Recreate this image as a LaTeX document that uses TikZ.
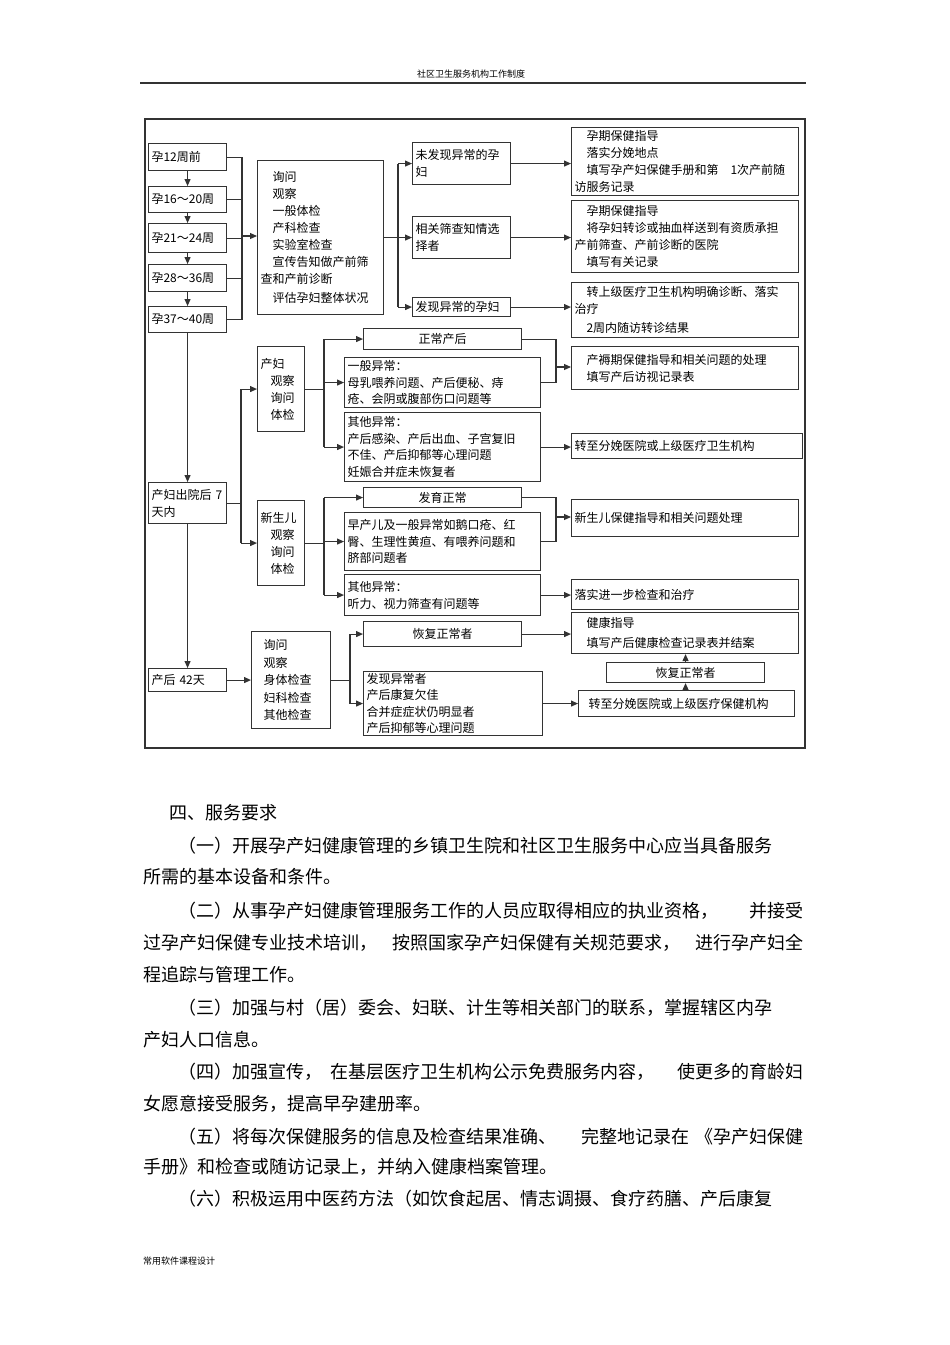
\documentclass[tikz,border=0pt]{standalone}
\usepackage{fontspec}
\setmainfont{Noto Sans CJK SC}
\usetikzlibrary{arrows.meta}

\begin{document}
\begin{tikzpicture}[x=1pt,y=-1pt]
   \tikzset{box/.style 2 args={draw=black!80, line width=1.1pt, anchor=north west, text width=#1, minimum height=#2, inner xsep=3pt, inner ysep=1pt, align=left, font=\fontsize{12}{17}\selectfont},
            line/.style={draw=black!80, line width=1.1pt},
            arr/.style={line, -{Triangle[length=7pt,width=6pt]}},
            back/.style={line, {Triangle[length=7pt,width=6pt]}-},
            txt/.style={anchor=west, inner sep=0pt, font=\fontsize{18}{20}\selectfont}};

\useasboundingbox (0,0) rectangle (950,1345);
\fill[white] (0,0) rectangle (950,1345);

\node[font=\fontsize{9}{10}\selectfont] (hd) at (471,74) {社区卫生服务机构工作制度};
\draw[line width=1.5pt, black!80] (140,83) -- (806,83);
\draw[line, line width=1.2pt] (145,119) rectangle (805,748);

\node[box={72}{27}] (1) at (148,143) {孕12周前};
\node[box={72}{26}] (2) at (148,186) {孕16～20周} edge[back] (1);
\node[box={72}{29}] (3) at (148,223) {孕21～24周} edge[back] (2);
\node[box={72}{27}] (4) at (148,264) {孕28～36周} edge[back] (3);
\node[box={72}{26}] (5) at (148,306) {孕37～40周} edge[back] (4);

\node[box={120}{154}] (6) at (257,160) {\hspace*{12pt}询问\\\hspace*{12pt}观察\\\hspace*{12pt}一般体检\\\hspace*{12pt}产科检查\\\hspace*{12pt}实验室检查\\\hspace*{12pt}宣传告知做产前筛\\查和产前诊断\\[2pt]\hspace*{12pt}评估孕妇整体状况};

\coordinate (j1) at (242,236);
\foreach \n in {1,...,5} \draw[line] (\n.east) -- (\n.east -| j1);
\draw[line] (1.east -| j1) -- (5.east -| j1);
\draw[arr] (j1) -- (j1 -| 6.west);

\node[box={92}{42}] (7) at (412,142) {未发现异常的孕\\妇};
\node[box={92}{42}] (8) at (412,216) {相关筛查知情选\\择者};
\node[box={92}{19}] (9) at (412,297) {发现异常的孕妇};

\coordinate (j2) at (398,236);
\draw[line] (6.east) -- (6.east -| j2);
\draw[line] (7.west -| j2) -- (9.west -| j2);
\foreach \n in {7,8,9} \draw[arr] (\n.west -| j2) -- (\n.west);

\node[box={221}{68}] (10) at (571,127) {\hspace*{12pt}孕期保健指导\\\hspace*{12pt}落实分娩地点\\\hspace*{12pt}填写孕产妇保健手册和第\hspace{12pt}1次产前随\\访服务记录};
\node[box={221}{72}] (11) at (571,200) {\hspace*{12pt}孕期保健指导\\\hspace*{12pt}将孕妇转诊或抽血样送到有资质承担\\产前筛查、产前诊断的医院\\\hspace*{12pt}填写有关记录};
\node[box={221}{55}] (12) at (571,282) {\hspace*{12pt}转上级医疗卫生机构明确诊断、落实\\治疗\\[2pt]\hspace*{12pt}2周内随访转诊结果};
\draw[arr] (7.east) -- (7.east -| 10.west);
\draw[arr] (8.east) -- (8.east -| 11.west);
\draw[arr] (9.east) -- (9.east -| 12.west);

\node[box={72}{41}] (13) at (148,482) {产妇出院后 7\\天内};
\draw[arr] (5) -- (13);

\node[box={41}{85}] (14) at (257,346) {产妇\\\hspace*{10pt}观察\\\hspace*{10pt}询问\\\hspace*{10pt}体检};
\node[box={41}{85}] (15) at (257,500) {新生儿\\\hspace*{10pt}观察\\\hspace*{10pt}询问\\\hspace*{10pt}体检};

\coordinate (j3) at (241,503);
\draw[line] (13.east) -- (13.east -| j3);
\draw[line] (14.west -| j3) -- (15.west -| j3);
\foreach \n in {14,15} \draw[arr] (\n.west -| j3) -- (\n.west);

\node[box={152}{21}, align=center] (16) at (363,328) {正常产后};
\node[box={190}{50}, font=\fontsize{12}{16.5}\selectfont] (17) at (344,357) {一般异常：\\母乳喂养问题、产后便秘、痔\\疮、会阴或腹部伤口问题等};
\node[box={190}{69}, font=\fontsize{12}{16.5}\selectfont] (18) at (344,412) {其他异常：\\产后感染、产后出血、子宫复旧\\不佳、产后抑郁等心理问题\\妊娠合并症未恢复者};

\coordinate (j4) at (324,389);
\draw[line] (14.east) -- (14.east -| j4);
\draw[line] (16.west -| j4) -- (18.west -| j4);
\foreach \n in {16,17,18} \draw[arr] (\n.west -| j4) -- (\n.west);

\node[box={221}{43}] (19) at (571,346) {\hspace*{12pt}产褥期保健指导和相关问题的处理\\\hspace*{12pt}填写产后访视记录表};
\node[box={225}{25}] (20) at (571,433) {转至分娩医院或上级医疗卫生机构};

\coordinate (m1) at (556,367);
\draw[line] (16.east) -| (m1 |- 17.east) -- (17.east);
\draw[arr] (m1) -- (m1 -| 19.west);
\draw[arr] (18.east) -- (18.east -| 20.west);

\node[box={152}{20}, align=center] (21) at (363,487) {发育正常};
\node[box={190}{58}, font=\fontsize{12}{16.5}\selectfont] (22) at (344,512) {早产儿及一般异常如鹅口疮、红\\臀、生理性黄疸、有喂养问题和\\脐部问题者};
\node[box={190}{41}] (23) at (344,574) {其他异常：\\听力、视力筛查有问题等};

\coordinate (j5) at (324,542);
\draw[line] (15.east) -- (15.east -| j5);
\draw[line] (21.west -| j5) -- (23.west -| j5);
\foreach \n in {21,22,23} \draw[arr] (\n.west -| j5) -- (\n.west);

\node[box={221}{37}] (24) at (571,499) {新生儿保健指导和相关问题处理\\[8pt]};
\node[box={221}{30}] (25) at (571,579) {落实进一步检查和治疗};

\coordinate (m2) at (556,517);
\draw[line] (21.east) -| (m2 |- 22.east) -- (22.east);
\draw[arr] (m2) -- (m2 -| 24.west);
\draw[arr] (23.east) -- (23.east -| 25.west);

\node[box={72}{23}] (26) at (148,668) {产后 42天};
\draw[arr] (13) -- (26);
\node[box={73}{97}, font=\fontsize{12}{17.5}\selectfont] (27) at (251,631) {\hspace*{9pt}询问\\\hspace*{9pt}观察\\\hspace*{9pt}身体检查\\\hspace*{9pt}妇科检查\\\hspace*{9pt}其他检查};
\draw[arr] (26) -- (27);

\node[box={152}{25}, align=center] (28) at (363,621) {恢复正常者};
\node[box={173}{64}, font=\fontsize{12}{16.5}\selectfont] (29) at (363,671) {发现异常者\\产后康复欠佳\\合并症症状仍明显者\\产后抑郁等心理问题};

\coordinate (j6) at (350,680);
\draw[line] (27.east) -- (27.east -| j6);
\draw[line] (28.west -| j6) -- (29.west -| j6);
\foreach \n in {28,29} \draw[arr] (\n.west -| j6) -- (\n.west);

\node[box={221}{41}, font=\fontsize{12}{20}\selectfont] (30) at (571,612) {\hspace*{12pt}健康指导\\\hspace*{12pt}填写产后健康检查记录表并结案};
\node[box={152}{20}, align=center] (31) at (606,662) {恢复正常者};
\node[box={210}{26}] (32) at (578,690) {\hspace*{7pt}转至分娩医院或上级医疗保健机构};

\draw[arr] (28.east) -- (28.east -| 30.west);
\draw[arr] (29.east) -- (29.east -| 32.west);
\draw[arr] (31.south |- 32.north) -- (31.south);
\draw[arr] (31.north) -- (31.north |- 30.south);

\node[txt] (b1) at (169,813) {四、服务要求};
\node[txt] (b2) at (178,846) {（一）开展孕产妇健康管理的乡镇卫生院和社区卫生服务中心应当具备服务};
\node[txt] (b3) at (143,877) {所需的基本设备和条件。};
\node[txt] (b4) at (178,911) {\makebox[625pt][l]{（二）从事孕产妇健康管理服务工作的人员应取得相应的执业资格，\hfill 并接受}};
\node[txt] (b5) at (143,943) {\makebox[660pt][l]{过孕产妇保健专业技术培训，\hfill 按照国家孕产妇保健有关规范要求，\hfill 进行孕产妇全}};
\node[txt] (b6) at (143,975) {程追踪与管理工作。};
\node[txt] (b7) at (178,1008) {（三）加强与村（居）委会、妇联、计生等相关部门的联系，掌握辖区内孕};
\node[txt] (b8) at (143,1040) {产妇人口信息。};
\node[txt] (b9) at (178,1072) {\makebox[625pt][l]{（四）加强宣传，\hspace{8pt}在基层医疗卫生机构公示免费服务内容，\hfill 使更多的育龄妇}};
\node[txt] (b10) at (143,1104) {女愿意接受服务，提高早孕建册率。};
\node[txt] (b11) at (178,1137) {\makebox[625pt][l]{（五）将每次保健服务的信息及检查结果准确、\hfill 完整地记录在\hspace{6pt}《孕产妇保健}};
\node[txt] (b12) at (143,1167) {手册》和检查或随访记录上，并纳入健康档案管理。};
\node[txt] (b13) at (178,1199) {（六）积极运用中医药方法（如饮食起居、情志调摄、食疗药膳、产后康复};

\node[anchor=west, inner sep=0pt, font=\fontsize{9}{10}\selectfont] (ft) at (143,1261) {常用软件课程设计};

\end{tikzpicture}
\end{document}
